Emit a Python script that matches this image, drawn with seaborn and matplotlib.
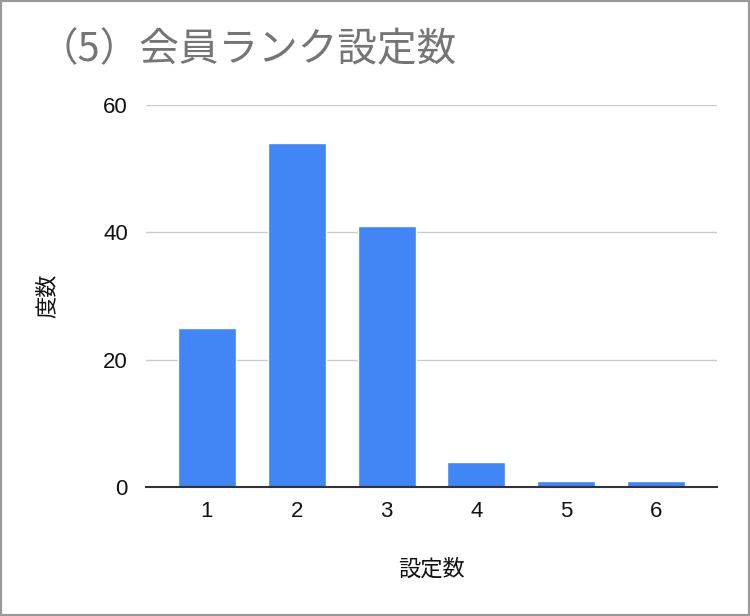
import numpy as np
import pandas as pd
import seaborn as sns
import matplotlib.pyplot as plt
from matplotlib.patches import Rectangle

# 会員ランク設定数の度数
settings = ['1', '2', '3', '4', '5', '6']
counts = [25, 54, 41, 4, 1, 1]

df = pd.DataFrame({'設定数': settings, '度数': counts})

sns.set_style('white')
plt.rcParams['font.family'] = ['Liberation Sans', 'Noto Sans CJK JP', 'DejaVu Sans']

fig = plt.figure(figsize=(7.5, 6.16), dpi=100)
ax = fig.add_axes([146 / 750, 1 - 487 / 616, (717 - 146) / 750, (487 - 105) / 616])

sns.barplot(x='設定数', y='度数', data=df, color='#4285f4', saturation=1,
            width=0.645, ax=ax)

ax.set_ylim(0, 60)
ax.set_yticks([0, 20, 40, 60])
ax.set_xlim(-0.674, 5.674)
ax.grid(axis='y', color='#cccccc', linewidth=1)
ax.set_axisbelow(True)
for s in ['top', 'right', 'left']:
    ax.spines[s].set_visible(False)
ax.spines['bottom'].set_color('#333333')
ax.spines['bottom'].set_linewidth(1.5)
ax.tick_params(axis='both', length=0, labelsize=16, colors='#111111')
ax.tick_params(axis='x', pad=10)
ax.tick_params(axis='y', pad=13)
ax.set_xlabel('設定数', fontsize=16, color='#111111', labelpad=26,
              family=['Noto Sans CJK JP'])
ax.set_ylabel('度数', fontsize=16, color='#111111', labelpad=32,
              family=['Noto Sans CJK JP'])

fig.text(38 / 750, 1 - 50 / 616, '（5）会員ランク設定数', fontsize=28.5,
         color='#757575', va='center', ha='left', family=['Noto Sans CJK JP'])

fig.patches.append(Rectangle((0, 0), 1, 1, transform=fig.transFigure,
                             fill=False, edgecolor='#999999', linewidth=3))

fig.savefig('out.png', dpi=100)
